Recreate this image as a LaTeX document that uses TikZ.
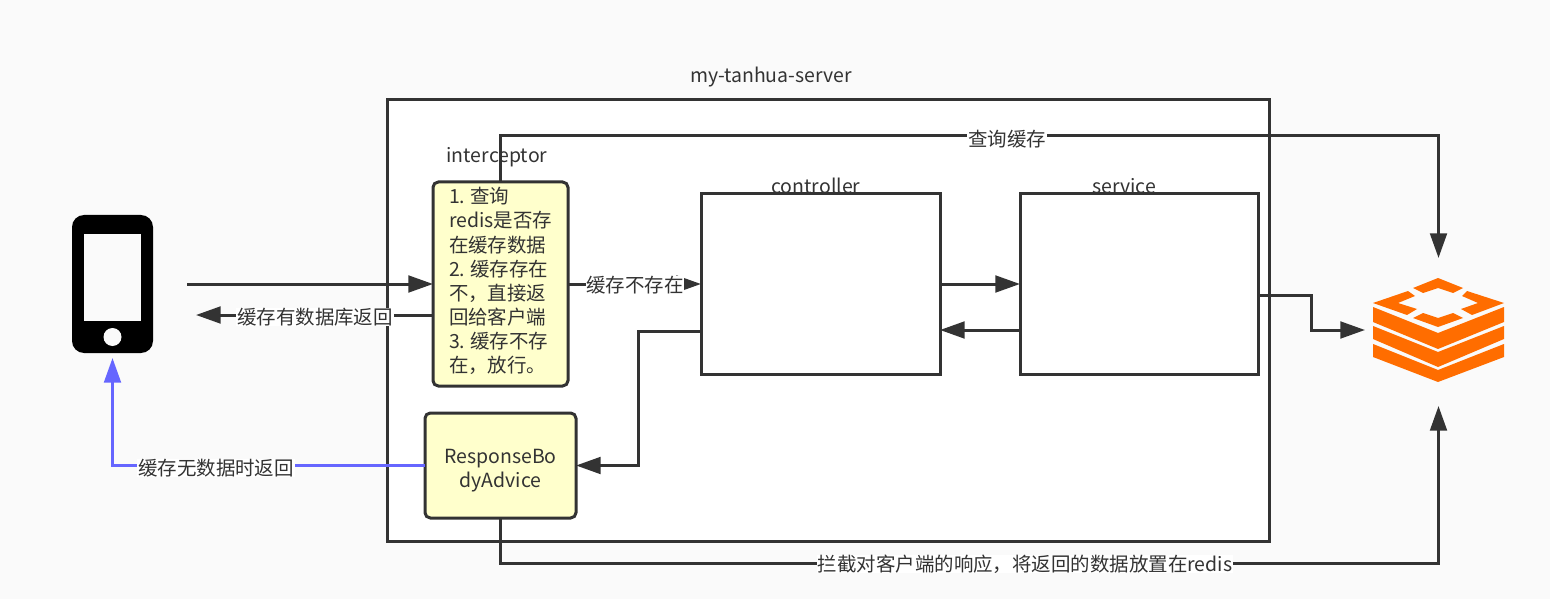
\documentclass[tikz,border=0pt]{standalone}
\usepackage{fontspec}
\setmainfont{Noto Sans CJK SC}
\usetikzlibrary{arrows.meta}
\definecolor{ink}{HTML}{333333}
\definecolor{page}{HTML}{FAFAFA}
\definecolor{note}{HTML}{FFFFCC}
\definecolor{blueline}{HTML}{6666FF}
\definecolor{redisorange}{HTML}{FF6D00}
\tikzset{
  every node/.style={font=\fontsize{14.6pt}{18.1pt}\selectfont,text=ink,outer sep=0pt},
  frame/.style={draw=ink,line width=2.25pt,fill=white,rectangle},
  notebox/.style={draw=ink,line width=2.25pt,fill=note,rounded corners=4pt,rectangle},
  link/.style={draw=ink,line width=2.25pt,-{Triangle[length=18.5pt,width=12.5pt]}},
  bluelink/.style={link,draw=blueline,-{Triangle[length=18.5pt,width=12.5pt]}},
  caption/.style={inner sep=0pt},
  tag/.style={fill=white,inner xsep=0.5pt,inner ysep=0pt},
  phonepart/.style={fill=black,rectangle,rounded corners=9pt,inner sep=0pt},
  redispart/.style={fill=redisorange,draw=none}
}
\begin{document}
\begin{tikzpicture}[x=0.75pt,y=-0.75pt]
\useasboundingbox (0,0) rectangle (1550,599);
\fill[page] (0,0) rectangle (1550,599);
% boxes
\node[frame,minimum width=661.5pt,minimum height=330.75pt] (server) at (828,320.5) {};
\node[frame,minimum width=179.25pt,minimum height=135pt] (controller) at (820.5,284) {};
\node[frame,minimum width=178.5pt,minimum height=135pt] (service) at (1139,284) {};
\node[notebox,minimum width=101.25pt,minimum height=153pt,inner sep=0pt] (interceptor) at (500.5,284) {};
\node[notebox,minimum width=113.25pt,minimum height=78.75pt,inner sep=0pt] (advice) at (500.5,465.5) {};
% phone
\node[phonepart,minimum width=60.75pt,minimum height=103.5pt] (phone) at (112.5,284) {};
\node[fill=page,rectangle,inner sep=0pt,minimum width=42.75pt,minimum height=65.25pt] (screen) at (112.5,277.5) {};
\node[fill=page,circle,inner sep=0pt,minimum size=13.5pt] (button) at (112.5,337) {};
\coordinate (phoneout) at (187,284);
\coordinate (phonein) at (196,315);
% redis
\node[rectangle,inner sep=0pt,minimum width=99.75pt,minimum height=78pt] (redis) at (1438.5,330) {};
\fill[redispart] (1373,307) -- (1438,333) -- (1504,307) -- (1504,322) -- (1438,349) -- (1373,322) -- cycle;
\fill[redispart] (1373,326) -- (1438,352) -- (1504,326) -- (1504,339) -- (1438,367) -- (1373,339) -- cycle;
\fill[redispart] (1373,344) -- (1438,370) -- (1504,344) -- (1504,357) -- (1438,382) -- (1373,357) -- cycle;
\fill[redispart] (1413,288) -- (1438,278) -- (1463,288) -- (1453,293) -- (1438,288) -- (1423,293) -- cycle;
\fill[redispart] (1467,291) -- (1504,303) -- (1472,315) -- (1461,309) -- (1478,303) -- (1462,296) -- cycle;
\fill[redispart] (1413,318) -- (1423,313) -- (1438,318) -- (1453,313) -- (1463,318) -- (1438,327) -- cycle;
\fill[redispart] (1408,291) -- (1373,303) -- (1407,315) -- (1417,309) -- (1398,303) -- (1415,296) -- cycle;
% connectors
\draw[link] (phoneout) -- (phoneout -| interceptor.west);
\draw[link] (phonein -| interceptor.west) -- (phonein);
\draw[link,shorten >=15pt] (interceptor.north) -- ++(0,-46) -| (redis.north);
\draw[link] (interceptor.east) -- (controller.west);
\draw[link] (controller.east) -- (service.west);
\draw[link] ([yshift=-34.5pt]service.west) -- ([yshift=-34.5pt]controller.east);
\draw[link] ([yshift=-35.25pt]controller.west) -| (638,465.5) -- (advice.east);
\draw[link,shorten >=5.25pt] ([yshift=-8.25pt]service.east) -- ++(53,0) |- (redis.west);
\draw[bluelink,shorten >=3.75pt] (advice.west) -| (phone.south);
\draw[link,shorten >=18pt] (advice.south) -- ++(0,45) -| (redis.south);
% texts
\node[caption] (title) at (771,77) {my-tanhua-server};
\node[caption] (ctitle) at (816,186) {controller};
\node[caption] (stitle) at (1124,186) {service};
\node[caption] (ititle) at (497,157) {interceptor};
\node[caption,text width=100pt,align=left,anchor=north west] (itext) at (449,187.5) {1.\hspace{.25em}查询\\redis是否存\\在缓存数据\\2.\hspace{.25em}缓存存在\\不，直接返\\回给客户端\\3.\hspace{.25em}缓存不存\\在，放行。};
\node[caption,align=center] (atext) at (500.5,470.5) {ResponseBo\\dyAdvice};
\node[tag] (q) at (1007,139) {查询缓存};
\node[tag] (hit) at (315,317) {缓存有数据库返回};
\node[tag] (miss) at (635,285) {缓存不存在};
\node[tag] (nodata) at (216,468) {缓存无数据时返回};
\node[tag] (put) at (1025,564) {拦截对客户端的响应，将返回的数据放置在redis};
\end{tikzpicture}
\end{document}
